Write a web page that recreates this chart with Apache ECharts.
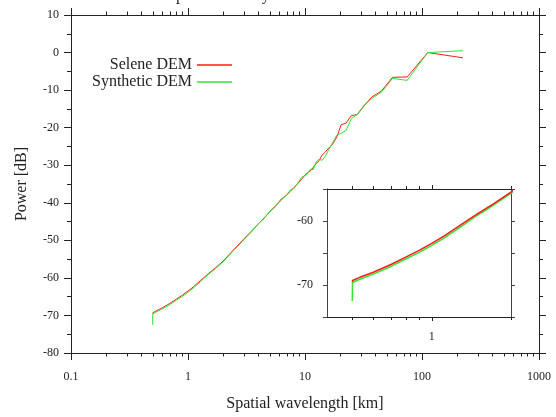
<!DOCTYPE html>
<html>
<head>
<meta charset="utf-8">
<script src="https://cdn.jsdelivr.net/npm/echarts@6/dist/echarts.min.js"></script>
<style>
  html, body { margin: 0; padding: 0; background: #fff; }
  #main { width: 556px; height: 417px; }
</style>
</head>
<body>
<div id="main"></div>
<script>
// wavelengths [km] and power [dB]
var wavelength = [224, 112, 74.7, 56, 44.8, 37.3, 32, 28, 24.9, 22.4, 20.4, 18.7, 17.2, 16, 14.9, 14, 13.2, 12.4, 11.8, 11.2,
  10.2, 9.33, 8.62, 8, 7.47, 7, 6.22, 5.6, 4.98, 4.48, 4, 3.5, 2.99, 2.49, 2, 1.72, 1.49, 1.28, 1.12, 1,
  0.896, 0.8, 0.7, 0.6, 0.533, 0.5, 0.499];
var selene = [-1.4, 0, -6.5, -6.6, -10.3, -11.8, -14.2, -16.5, -16.8, -18.8, -19.2, -22.5, -24.4, -25.4, -26.5, -27.3, -28.8, -29.6, -30.5, -31.4,
  -32.3, -33.8, -35.0, -36.0, -37.0, -37.8, -39.4, -40.8, -42.5, -44.0, -45.6, -47.5, -49.7, -52.3, -55.5, -57.3, -58.9, -60.7, -62.3, -63.5,
  -64.6, -65.6, -66.8, -68.0, -68.8, -69.3, -69.5];
var synthetic = [0.5, 0, -7.4, -6.9, -10.6, -12.2, -14.0, -16.4, -17.6, -20.8, -21.5, -22.0, -24.0, -25.8, -27.6, -28.7, -28.4, -29.2, -31.2, -31.0,
  -32.6, -33.2, -34.9, -36.3, -36.6, -38.0, -39.0, -41.0, -42.3, -44.2, -45.5, -47.7, -49.9, -52.5, -55.7, -57.5, -59.1, -61.0, -62.6, -63.8,
  -64.9, -65.9, -67.1, -68.3, -69.1, -69.6, -72.5];

var mainMinorTicks = [0.2, 0.3, 0.4, 0.5, 0.6, 0.7, 0.8, 0.9, 2, 3, 4, 5, 6, 7, 8, 9,
  20, 30, 40, 50, 60, 70, 80, 90, 200, 300, 400, 500, 600, 700, 800, 900];
var insetMinorTicks = [0.5, 0.6, 0.7, 0.8, 0.9, 2];
var insetXLabels = [1];
var insetYLabels = [-60, -70];

var font = 'Liberation Serif';
var ink = '#222';

var seleneData = wavelength.map(function (x, i) { return [x, selene[i]]; });
var syntheticData = wavelength.map(function (x, i) { return [x, synthetic[i]]; });

function logAxis(grid, pos, min, max, opts) {
  var a = {
    type: 'log', logBase: 10, gridIndex: grid, position: pos, min: min, max: max,
    axisLine: { show: true, onZero: false, lineStyle: { color: ink, width: 1 } },
    axisTick: { show: true, inside: false, length: opts.tickLen, lineStyle: { color: ink } },
    axisLabel: { show: false },
    splitLine: { show: false }
  };
  if (opts.ticks) a.axisTick.customValues = opts.ticks;
  if (opts.labels) {
    a.axisLabel = { show: true, customValues: opts.labels, fontFamily: font, fontSize: 12, color: ink, margin: opts.margin };
  }
  return a;
}

var chart = echarts.init(document.getElementById('main'));

var xMainBottom = logAxis(0, 'bottom', 0.1, 1000, { tickLen: 7, ticks: [0.1, 1, 10, 100, 1000], labels: [0.1, 1, 10, 100, 1000], margin: 18 });
xMainBottom.axisLabel.formatter = function (v) { return String(v); };
xMainBottom.name = 'Spatial wavelength [km]';
xMainBottom.nameLocation = 'middle';
xMainBottom.nameGap = 43;
xMainBottom.nameTextStyle = { fontFamily: font, fontSize: 16, color: ink };

var xInsetBottom = logAxis(1, 'bottom', 0.4, 2, { tickLen: 4, ticks: [1], labels: insetXLabels, margin: 14 });
xInsetBottom.axisLine.lineStyle.color = '#444';

var option = {
  animation: false,
  backgroundColor: '#fff',
  title: {
    text: 'Power spectral density',
    left: 120, top: -17,
    textStyle: { fontFamily: font, fontSize: 16, fontWeight: 'normal', color: ink }
  },
  legend: [
    {
      data: ['Selene DEM'], right: 319, top: 52, orient: 'vertical', align: 'right',
      icon: 'rect', itemWidth: 35, itemHeight: 1.5, itemGap: 4,
      textStyle: { fontFamily: font, fontSize: 16, color: ink }
    },
    {
      data: ['Synthetic DEM'], right: 319, top: 69, orient: 'vertical', align: 'right',
      icon: 'rect', itemWidth: 35, itemHeight: 1.5, itemGap: 4,
      textStyle: { fontFamily: font, fontSize: 16, color: ink }
    }
  ],
  grid: [
    { left: 71, top: 15, width: 468, height: 340 },
    { left: 327, top: 189, width: 184, height: 128, show: true, backgroundColor: '#fff', borderWidth: 0 }
  ],
  xAxis: [
    xMainBottom,
    logAxis(0, 'bottom', 0.1, 1000, { tickLen: 3.5, ticks: mainMinorTicks }),
    logAxis(0, 'top', 0.1, 1000, { tickLen: 7, ticks: [0.1, 1, 10, 100, 1000] }),
    logAxis(0, 'top', 0.1, 1000, { tickLen: 3.5, ticks: mainMinorTicks }),
    xInsetBottom,
    logAxis(1, 'bottom', 0.4, 2, { tickLen: 3, ticks: insetMinorTicks }),
    logAxis(1, 'top', 0.4, 2, { tickLen: 4, ticks: [1] }),
    logAxis(1, 'top', 0.4, 2, { tickLen: 3, ticks: insetMinorTicks })
  ],
  yAxis: [
    {
      type: 'value', gridIndex: 0, position: 'left', min: -80, max: 10, interval: 10,
      name: 'Power [dB]', nameLocation: 'middle', nameGap: 41,
      nameTextStyle: { fontFamily: font, fontSize: 16, color: ink },
      axisLine: { show: true, onZero: false, lineStyle: { color: ink } },
      axisTick: { show: true, inside: false, length: 7, lineStyle: { color: ink } },
      minorTick: { show: true, splitNumber: 2, length: 4, lineStyle: { color: ink } },
      axisLabel: { fontFamily: font, fontSize: 12, color: ink, margin: 12 },
      splitLine: { show: false }
    },
    {
      type: 'value', gridIndex: 0, position: 'right', min: -80, max: 10, interval: 10,
      axisLine: { show: true, onZero: false, lineStyle: { color: ink } },
      axisTick: { show: true, inside: false, length: 7, lineStyle: { color: ink } },
      minorTick: { show: true, splitNumber: 2, length: 4, lineStyle: { color: ink } },
      axisLabel: { show: false },
      splitLine: { show: false }
    },
    {
      type: 'value', gridIndex: 1, position: 'left', min: -75, max: -55, interval: 5,
      axisLine: { show: true, onZero: false, lineStyle: { color: '#444' } },
      axisTick: { show: true, inside: false, length: 4, lineStyle: { color: '#444' } },
      axisLabel: {
        fontFamily: font, fontSize: 12, color: ink, margin: 14,
        formatter: function (v) { return insetYLabels.indexOf(v) >= 0 ? String(v) : ''; }
      },
      splitLine: { show: false }
    },
    {
      type: 'value', gridIndex: 1, position: 'right', min: -75, max: -55, interval: 5,
      axisLine: { show: true, onZero: false, lineStyle: { color: '#444' } },
      axisTick: { show: true, inside: false, length: 4, lineStyle: { color: '#444' } },
      axisLabel: { show: false },
      splitLine: { show: false }
    }
  ],
  series: [
    { name: 'Selene DEM', type: 'line', xAxisIndex: 0, yAxisIndex: 0, data: seleneData, symbol: 'none', color: '#ff1a1a', lineStyle: { width: 1 } },
    { name: 'Synthetic DEM', type: 'line', xAxisIndex: 0, yAxisIndex: 0, data: syntheticData, symbol: 'none', color: '#2ee62e', lineStyle: { width: 1 } },
    { name: 'Synthetic DEM', type: 'line', xAxisIndex: 4, yAxisIndex: 2, data: syntheticData, symbol: 'none', color: '#2ee62e', lineStyle: { width: 1.5 } },
    { name: 'Selene DEM', type: 'line', xAxisIndex: 4, yAxisIndex: 2, data: seleneData, symbol: 'none', color: '#ff1a1a', lineStyle: { width: 1.5 } }
  ]
};

chart.setOption(option);
</script>
</body>
</html>
